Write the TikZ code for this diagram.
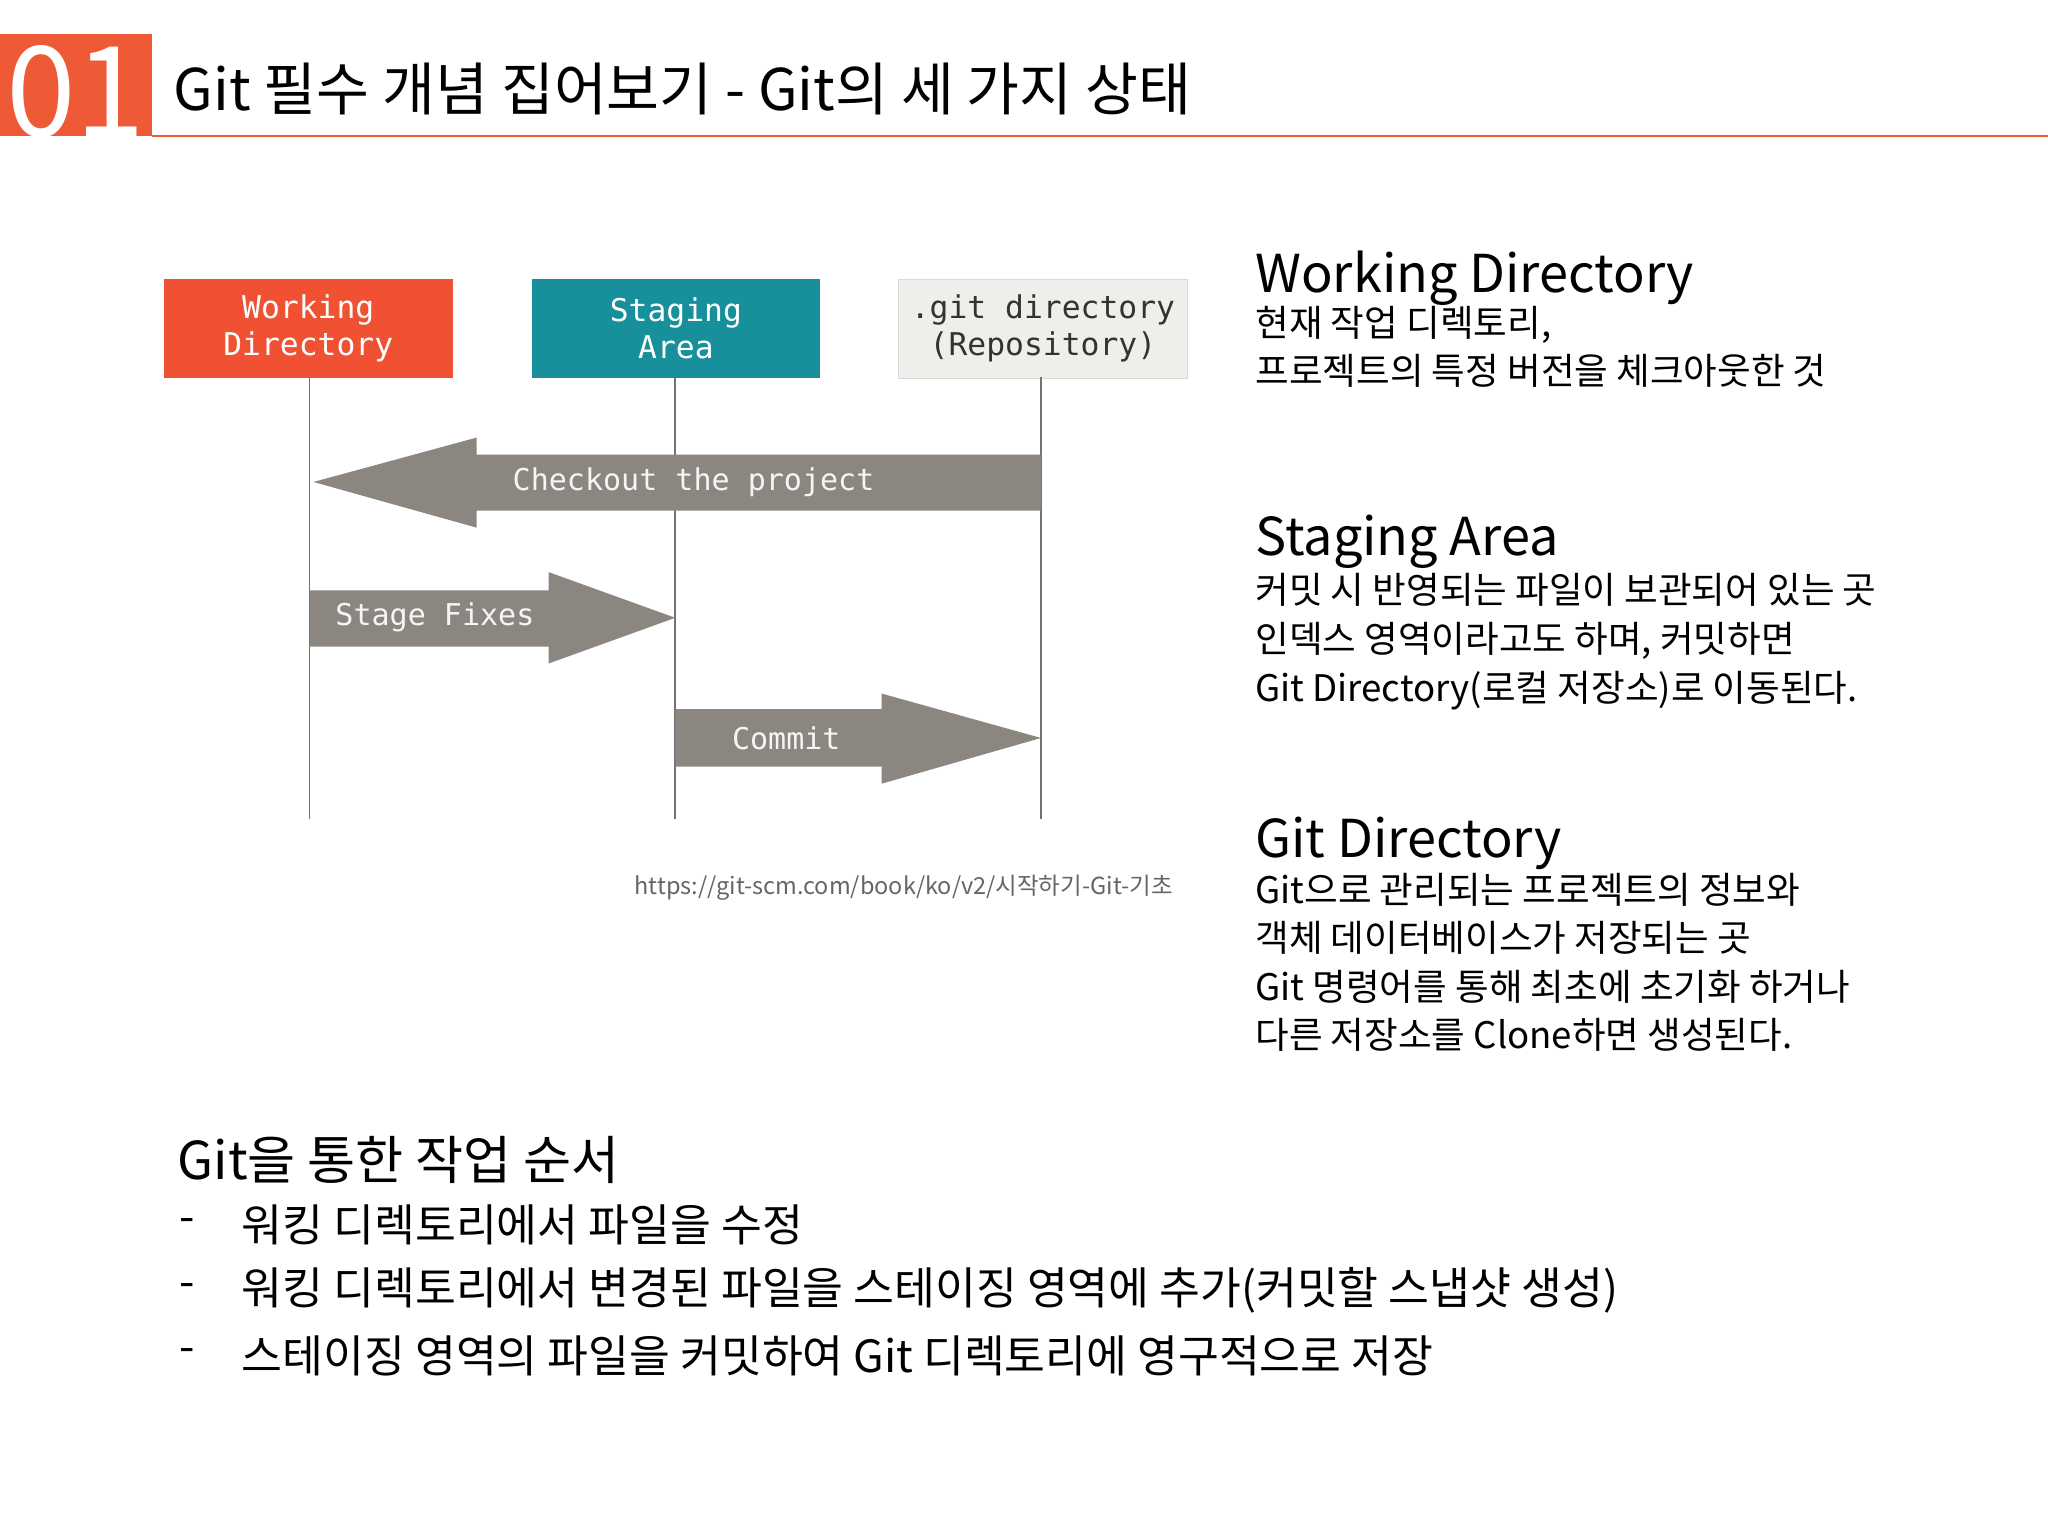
\documentclass[tikz,border=0pt]{standalone}
\usepackage{fontspec}
\setmainfont{Noto Sans CJK KR}
\setmonofont{DejaVu Sans Mono}
\newfontfamily\urlfont{Noto Sans CJK KR}
\definecolor{gitred}{HTML}{F05133}
\definecolor{gitteal}{HTML}{17909C}
\definecolor{repo}{HTML}{EFEEEA}
\definecolor{arr}{HTML}{8B8680}
\definecolor{accent}{HTML}{EE5A36}
\begin{document}
\begin{tikzpicture}[x=1pt,y=-1pt,
  fs/.style={font=\fontsize{#1}{1.33\dimexpr #1pt\relax}\selectfont},
  box/.style={minimum width=221pt,minimum height=76pt,inner sep=0pt,align=center,text=white,font=\ttfamily\fontsize{24}{28}\selectfont},
  arrowshape/.style={fill=arr},
  atext/.style={text=white!92!arr,font=\ttfamily\fontsize{23}{28}\selectfont},
  head/.style={anchor=west,fs=40,inner sep=0pt},
  body/.style={anchor=north west,fs=28,inner sep=0pt,align=left}]
\useasboundingbox (0,0) rectangle (1568,1176);
\fill[white] (0,0) rectangle (1568,1176);
% title
\fill[accent] (0,26) rectangle (116,104);
\node[text=white,font=\fontsize{96}{96}\selectfont,inner sep=0pt] (num) at (58,70) {01};
\draw[accent,line width=1.5pt] (116,104) -- (1568,104);
\node[anchor=west,fs=44,inner sep=0pt] (title) at (133,68) {Git 필수 개념 집어보기 - Git의 세 가지 상태};
% boxes
\node[box,fill=gitred] (wd) at (236,251.5) {Working\\Directory};
\node[box,fill=gitteal] (sa) at (517.5,251.5) {Staging\\Area};
\node[box,fill=repo,draw=black!15,text=black!80] (gd) at (798.5,251.5) {.git directory\\(Repository)};
\coordinate (wdb) at (237,627); \coordinate (sab) at (517,627); \coordinate (gdb) at (797,627);
\draw[black!55,line width=1.2pt] (237,289) -- (wdb);
\draw[black!55,line width=1.2pt] (517,289) -- (sab);
\draw[black!55,line width=1.2pt] (797,289) -- (gdb);
% arrows
\fill[arrowshape] (797,348) -- (365,348) -- (365,335) -- (240,369) -- (365,404) -- (365,391) -- (797,391) -- cycle;
\node[atext] (co) at (531,369) {Checkout the project};
\fill[arrowshape] (237,452) -- (420,452) -- (420,438) -- (517,473) -- (420,508) -- (420,495) -- (237,495) -- cycle;
\node[atext] (sf) at (333,473) {Stage Fixes};
\fill[arrowshape] (517,543) -- (675,543) -- (675,531) -- (797,565) -- (675,600) -- (675,587) -- (517,587) -- cycle;
\node[atext] (cm) at (602,565) {Commit};
\node[anchor=east,text=black!60,font=\urlfont\itshape\fontsize{18}{22}\selectfont,inner sep=0pt] (url) at (898,680) {https://git-scm.com/book/ko/v2/시작하기-Git-기초};
% right text
\node[head] (h1) at (961,213) {Working Directory};
\node[body] (b1) at (961,234) {현재 작업 디렉토리,\\프로젝트의 특정 버전을 체크아웃한 것};
\node[head] (h2) at (961,415) {Staging Area};
\node[body] (b2) at (961,439) {커밋 시 반영되는 파일이 보관되어 있는 곳\\인덱스 영역이라고도 하며, 커밋하면\\Git Directory(로컬 저장소)로 이동된다.};
\node[head] (h3) at (961,646) {Git Directory};
\node[body] (b3) at (961,668) {Git으로 관리되는 프로젝트의 정보와\\객체 데이터베이스가 저장되는 곳\\Git 명령어를 통해 최초에 초기화 하거나\\다른 저장소를 Clone하면 생성된다.};
% bottom
\node[head] (bt) at (136,888) {Git을 통한 작업 순서};
\foreach \y/\t [count=\i] in {938/워킹 디렉토리에서 파일을 수정,988/워킹 디렉토리에서 변경된 파일을 스테이징 영역에 추가(커밋할 스냅샷 생성),1038/스테이징 영역의 파일을 커밋하여 Git 디렉토리에 영구적으로 저장}{
  \node[anchor=west,fs=34,inner sep=0pt] (d\i) at (137,\y) {-};
  \node[anchor=west,fs=34,inner sep=0pt] (l\i) at (185,\y) {\t};
}
\end{tikzpicture}
\end{document}
